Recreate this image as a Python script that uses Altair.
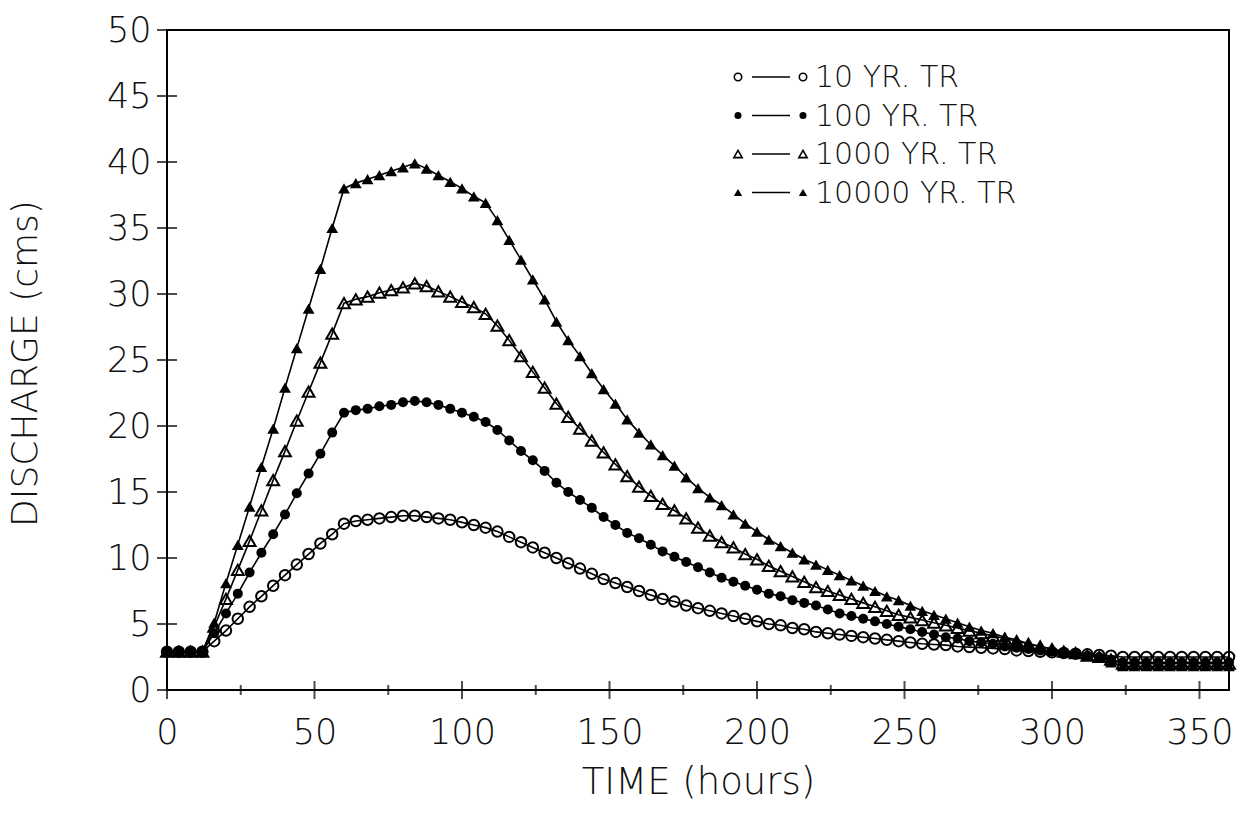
import altair as alt
import pandas as pd

# ---------------- data ----------------
hours = list(range(0, 361, 4))

q10 = [2.9, 2.9, 2.9, 2.9,
       3.7, 4.5, 5.4, 6.3, 7.1, 7.9, 8.7, 9.5, 10.3, 11.1, 11.8, 12.6,
       12.8, 12.9, 13.0, 13.1, 13.2, 13.2, 13.1, 13.0, 12.9, 12.7, 12.5, 12.3,
       12.0, 11.6, 11.2, 10.8, 10.4, 10.0, 9.6, 9.2, 8.8, 8.4, 8.1, 7.8, 7.5, 7.2,
       6.9, 6.7, 6.4, 6.2, 6.0, 5.8, 5.6, 5.4, 5.2, 5.0, 4.9, 4.7, 4.6, 4.4, 4.3,
       4.2, 4.1, 4.0, 3.9, 3.8, 3.7, 3.6, 3.5, 3.45, 3.4, 3.3, 3.25, 3.2, 3.15,
       3.1, 3.0, 2.95, 2.9, 2.85, 2.8, 2.75, 2.7, 2.65, 2.6,
       2.5, 2.5, 2.5, 2.5, 2.5, 2.5, 2.5, 2.5, 2.5, 2.5]

q100 = [2.9, 2.9, 2.9, 2.9,
        4.3, 5.8, 7.3, 8.9, 10.4, 11.8, 13.3, 14.9, 16.4, 17.9, 19.5, 21.0,
        21.2, 21.3, 21.5, 21.6, 21.8, 21.9, 21.8, 21.6, 21.3, 21.0, 20.7, 20.3,
        19.7, 18.9, 18.1, 17.4, 16.6, 15.7, 15.0, 14.4, 13.8, 13.1, 12.5, 11.9,
        11.5, 11.0, 10.5, 10.1, 9.7, 9.3, 8.9, 8.5, 8.2, 7.9, 7.6, 7.3, 7.1, 6.8,
        6.6, 6.4, 6.1, 5.8, 5.6, 5.4, 5.2, 5.0, 4.8, 4.6, 4.4, 4.2, 4.0, 3.9, 3.7,
        3.6, 3.5, 3.3, 3.2, 3.1, 3.0, 2.9, 2.8, 2.7, 2.6, 2.5, 2.3,
        2.1, 2.1, 2.1, 2.1, 2.1, 2.1, 2.1, 2.1, 2.1, 2.1]

q1000 = [2.9, 2.9, 2.9, 2.9,
         4.8, 6.9, 9.1, 11.3, 13.6, 15.9, 18.1, 20.4, 22.6, 24.8, 27.0, 29.3,
         29.6, 29.8, 30.1, 30.3, 30.5, 30.8, 30.6, 30.2, 29.8, 29.4, 29.0, 28.5,
         27.6, 26.5, 25.3, 24.1, 22.9, 21.7, 20.7, 19.8, 18.9, 18.0, 17.1, 16.2,
         15.4, 14.7, 14.1, 13.6, 13.0, 12.3, 11.7, 11.2, 10.8, 10.3, 9.9, 9.4,
         9.0, 8.6, 8.2, 7.8, 7.5, 7.2, 6.9, 6.6, 6.3, 6.0, 5.7, 5.5, 5.3, 5.1,
         4.9, 4.7, 4.5, 4.3, 4.1, 3.9, 3.7, 3.5, 3.3, 3.1, 2.9, 2.8, 2.6, 2.5, 2.3,
         2.0, 2.0, 2.0, 2.0, 2.0, 2.0, 2.0, 2.0, 2.0, 2.0]

q10000 = [2.9, 2.9, 2.9, 2.9,
          5.1, 8.1, 11.0, 13.9, 16.9, 19.8, 22.9, 25.9, 28.9, 31.9, 35.0, 38.0,
          38.4, 38.7, 39.0, 39.3, 39.6, 39.9, 39.5, 39.0, 38.5, 38.0, 37.4, 36.9,
          35.6, 34.1, 32.6, 31.1, 29.6, 27.9, 26.5, 25.3, 24.0, 22.8, 21.7, 20.5,
          19.5, 18.6, 17.8, 17.0, 16.1, 15.3, 14.6, 14.0, 13.3, 12.6, 12.0, 11.4,
          10.9, 10.4, 9.9, 9.5, 9.1, 8.7, 8.3, 7.9, 7.5, 7.1, 6.8, 6.4, 6.0, 5.7,
          5.4, 5.1, 4.8, 4.5, 4.3, 4.0, 3.8, 3.5, 3.3, 3.1, 2.9, 2.8, 2.6, 2.5, 2.1,
          1.8, 1.8, 1.8, 1.8, 1.8, 1.8, 1.8, 1.8, 1.8, 1.8]

series_names = ["10 YR. TR", "100 YR. TR", "1000 YR. TR", "10000 YR. TR"]
series_values = [q10, q100, q1000, q10000]

x_major = [0, 50, 100, 150, 200, 250, 300, 350]
x_minor = [25, 75, 125, 175, 225, 275, 325]
y_major = [0, 5, 10, 15, 20, 25, 30, 35, 40, 45, 50]

# ---------------- layout / style ----------------
W, H = 1062, 660
FONT = "DejaVu Sans"
FW = 300

rows = []
for name, vals in zip(series_names, series_values):
    for t, v in zip(hours, vals):
        rows.append({"hours": t, "q": v, "series": name})
df = pd.DataFrame(rows)

xs = alt.Scale(domain=[0, 360], nice=False, zero=False)
ys = alt.Scale(domain=[0, 50], nice=False)

X = alt.X("hours:Q", scale=xs,
          axis=alt.Axis(values=x_major, title="TIME (hours)", ticks=False, domain=False,
                        grid=False, labelFlush=False, labelOverlap=False,
                        labelFontSize=35, labelFontWeight=FW, labelPadding=25,
                        labelColor="#111", labelFont=FONT,
                        titleFont=FONT, titleFontSize=37, titleFontWeight=FW,
                        titleColor="#111",
                        titleX=W / 2, titleY=92, titleBaseline="middle"))
Y = alt.Y("q:Q", scale=ys,
          axis=alt.Axis(values=y_major, title="DISCHARGE (cms)", ticks=False, domain=False,
                        grid=False, labelFlush=False, labelOverlap=False,
                        labelFontSize=35, labelFontWeight=FW, labelPadding=16,
                        labelColor="#111", labelFont=FONT,
                        titleFont=FONT, titleFontSize=36, titleFontWeight=FW,
                        titleColor="#111",
                        titleX=-142, titleY=H / 2 + 3, titleAngle=-90,
                        titleBaseline="middle", titleAlign="center"))

lines = alt.Chart(df).mark_line(color="black", strokeWidth=1.6).encode(
    x=X, y=Y, detail="series:N")

styles = {
    "10 YR. TR": dict(shape="circle", filled=False, size=110),
    "100 YR. TR": dict(shape="circle", filled=True, size=100),
    "1000 YR. TR": dict(shape="triangle-up", filled=False, size=140),
    "10000 YR. TR": dict(shape="triangle-up", filled=True, size=140),
}

point_layers = []
for name in series_names:
    st = styles[name]
    if st["filled"]:
        mk = alt.Chart(df).mark_point(shape=st["shape"], filled=True, color="black",
                                      size=st["size"], opacity=1)
    else:
        mk = alt.Chart(df).mark_point(shape=st["shape"], filled=False, color="black",
                                      strokeWidth=2, size=st["size"], opacity=1)
    point_layers.append(mk.transform_filter(alt.datum.series == name).encode(
        x=alt.X("hours:Q", scale=xs), y=alt.Y("q:Q", scale=ys)))

# axis ticks crossing the axis lines
xt_major = alt.Chart(pd.DataFrame({"v": x_major})).mark_tick(
    orient="vertical", size=18, thickness=2, color="black").encode(
    x=alt.X("v:Q", scale=xs), y=alt.value(H))
xt_minor = alt.Chart(pd.DataFrame({"v": x_minor})).mark_tick(
    orient="vertical", size=10, thickness=2, color="black").encode(
    x=alt.X("v:Q", scale=xs), y=alt.value(H))
yt_major = alt.Chart(pd.DataFrame({"v": y_major})).mark_tick(
    orient="horizontal", size=20, thickness=2, color="black").encode(
    y=alt.Y("v:Q", scale=ys), x=alt.value(0))

# legend drawn inside the plot
leg_layers = []
leg_y0, leg_dy = 47, 38.5
for i, name in enumerate(series_names):
    st = styles[name]
    yy = leg_y0 + i * leg_dy
    one = pd.DataFrame({"label": [name]})
    sz = st["size"] * 0.5
    for xx in (571, 636):
        if st["filled"]:
            pm = alt.Chart(one).mark_point(shape=st["shape"], filled=True, color="black",
                                           size=sz, opacity=1)
        else:
            pm = alt.Chart(one).mark_point(shape=st["shape"], filled=False, color="black",
                                           strokeWidth=1.6, size=sz, opacity=1)
        leg_layers.append(pm.encode(x=alt.value(xx), y=alt.value(yy)))
    leg_layers.append(alt.Chart(one).mark_rule(color="black", strokeWidth=1.6).encode(
        x=alt.value(585), x2=alt.value(623), y=alt.value(yy)))
    leg_layers.append(alt.Chart(one).mark_text(
        align="left", baseline="middle", font=FONT, fontSize=30, fontWeight=FW,
        color="#111").encode(
        x=alt.value(648), y=alt.value(yy + 1), text="label:N"))

chart = alt.layer(lines, *point_layers, xt_major, xt_minor, yt_major, *leg_layers).properties(
    width=W, height=H,
    autosize=alt.AutoSizeParams(type="none"),
    padding={"left": 167, "top": 30, "right": 11, "bottom": 124},
    background="white",
).configure_view(stroke="black", strokeWidth=2)

chart.save("out.html", embed_options={"renderer": "svg", "actions": False})
